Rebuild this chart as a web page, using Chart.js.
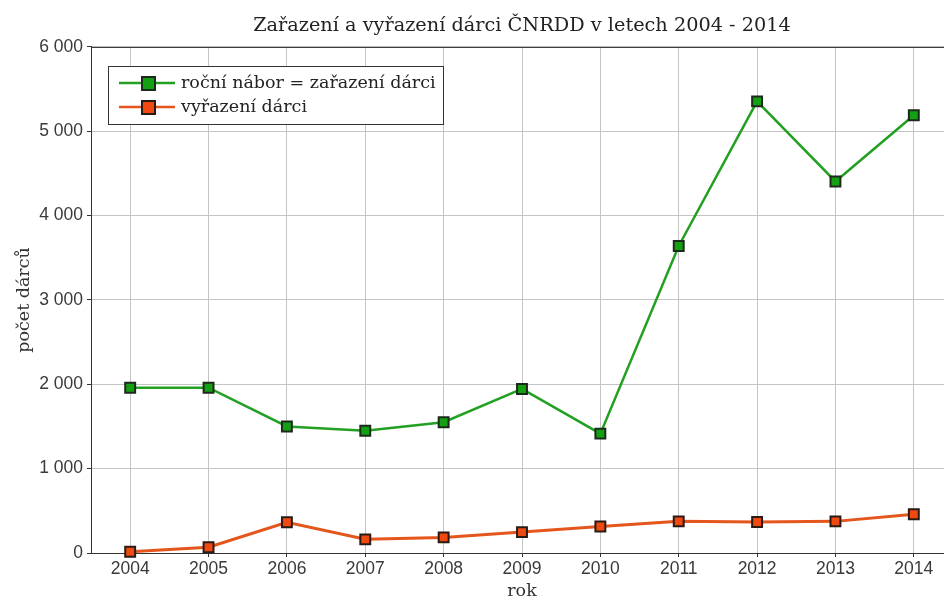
<!DOCTYPE html>
<html>
<head>
<meta charset="utf-8">
<script src="https://cdn.jsdelivr.net/npm/chart.js@4.4.1/dist/chart.umd.min.js"></script>
<style>
  html, body { margin: 0; padding: 0; background: #fff; overflow: hidden; }
  #wrap { position: absolute; left: 0; top: 0; width: 1044px; height: 600px; }
</style>
</head>
<body>
<div id="wrap"><canvas id="donorChart" width="1044" height="600"></canvas></div>
<script>
// Data
const years = [2004, 2005, 2006, 2007, 2008, 2009, 2010, 2011, 2012, 2013, 2014];
const zarazeni = [1960, 1960, 1500, 1450, 1550, 1945, 1415, 3640, 5355, 4405, 5190];
const vyrazeni = [15, 68, 365, 162, 185, 248, 315, 375, 368, 375, 460];
const yTicks = [0, 1000, 2000, 3000, 4000, 5000, 6000];
const yTickLabels = ['0', '1 000', '2 000', '3 000', '4 000', '5 000', '6 000'];

const serif = '"DejaVu Serif", "Liberation Serif", serif';
const sans = '"Liberation Sans", Arial, sans-serif';

// Legend drawn in a framed box inside the plot, like the original
const boxLegend = {
    id: 'boxLegend',
    afterDraw(chart) {
        const c = chart.ctx;
        const a = chart.chartArea;
        // top border of the plot
        c.save();
        c.strokeStyle = '#333';
        c.lineWidth = 1;
        c.beginPath();
        c.moveTo(a.left, a.top + 0.5);
        c.lineTo(a.right, a.top + 0.5);
        c.stroke();

        const x0 = 108, y0 = 66, w = 335, h = 58;
        c.fillStyle = '#fff';
        c.fillRect(x0, y0, w, h);
        c.strokeStyle = '#333';
        c.strokeRect(x0 + 0.5, y0 + 0.5, w, h);
        chart.data.datasets.forEach(function(ds, i) {
            const cy = 83 + i * 24;
            c.strokeStyle = ds.borderColor;
            c.lineWidth = 2.5;
            c.beginPath();
            c.moveTo(119, cy);
            c.lineTo(175, cy);
            c.stroke();
            c.fillStyle = ds.pointBackgroundColor;
            c.strokeStyle = ds.pointBorderColor;
            c.lineWidth = 2;
            c.fillRect(142, cy - 6, 13, 13);
            c.strokeRect(142, cy - 6, 13, 13);
            c.fillStyle = '#222';
            c.font = '17.5px ' + serif;
            c.textBaseline = 'middle';
            c.fillText(ds.label, 181, cy);
        });
        c.restore();
    }
};

document.addEventListener('DOMContentLoaded', function() {
    const ctx = document.getElementById('donorChart');
    new Chart(ctx, {
        type: 'line',
        data: {
            datasets: [{
                label: 'roční nábor = zařazení dárci',
                data: years.map((yr, i) => ({ x: yr, y: zarazeni[i] })),
                borderColor: '#22a022',
                borderWidth: 2.5,
                pointStyle: 'rect',
                pointRadius: 7,
                pointBackgroundColor: '#13a013',
                pointBorderColor: '#1c2a1c',
                pointBorderWidth: 2,
                clip: false
            }, {
                label: 'vyřazení dárci',
                data: years.map((yr, i) => ({ x: yr, y: vyrazeni[i] })),
                borderColor: '#e4561c',
                borderWidth: 3,
                pointStyle: 'rect',
                pointRadius: 7,
                pointBackgroundColor: '#f04a10',
                pointBorderColor: '#2a1a14',
                pointBorderWidth: 2,
                clip: false
            }]
        },
        options: {
            responsive: false,
            animation: false,
            layout: { padding: { left: 0, right: 91, top: 0, bottom: 0 } },
            plugins: {
                legend: { display: false },
                tooltip: { enabled: false },
                title: {
                    display: true,
                    fullSize: false,
                    text: 'Zařazení a vyřazení dárci ČNRDD v letech 2004 - 2014',
                    color: '#222',
                    font: { family: serif, size: 19.3, weight: 'normal' },
                    padding: { top: 14, bottom: 9.8 }
                }
            },
            scales: {
                x: {
                    type: 'linear',
                    min: 2003.5,
                    max: 2014.5,
                    afterBuildTicks: s => { s.ticks = years.map(v => ({ value: v })); },
                    afterFit: s => { s.height = 47; },
                    ticks: {
                        color: '#3a3a3a',
                        font: { family: sans, size: 17.5 },
                        padding: 2,
                        maxRotation: 0,
                        callback: v => String(v)
                    },
                    grid: { color: '#c4c4c4', tickColor: '#333', tickLength: 4 },
                    border: { color: '#333', width: 1 },
                    title: {
                        display: true,
                        text: 'rok',
                        color: '#333',
                        font: { family: serif, size: 17.5 },
                        padding: { top: 0, bottom: -2 }
                    }
                },
                y: {
                    min: 0,
                    max: 6000,
                    afterBuildTicks: s => { s.ticks = yTicks.map(v => ({ value: v })); },
                    afterFit: s => { s.width = 91; },
                    ticks: {
                        color: '#3a3a3a',
                        font: { family: sans, size: 17.5 },
                        padding: 4,
                        callback: v => yTickLabels[yTicks.indexOf(v)]
                    },
                    grid: { color: '#c4c4c4', tickColor: '#333', tickLength: 4 },
                    border: { color: '#333', width: 1 },
                    title: {
                        display: true,
                        text: 'počet dárců',
                        color: '#333',
                        font: { family: serif, size: 17.5 },
                        padding: { top: 14, bottom: 0 }
                    }
                }
            }
        },
        plugins: [boxLegend]
    });
});
</script>
</body>
</html>
